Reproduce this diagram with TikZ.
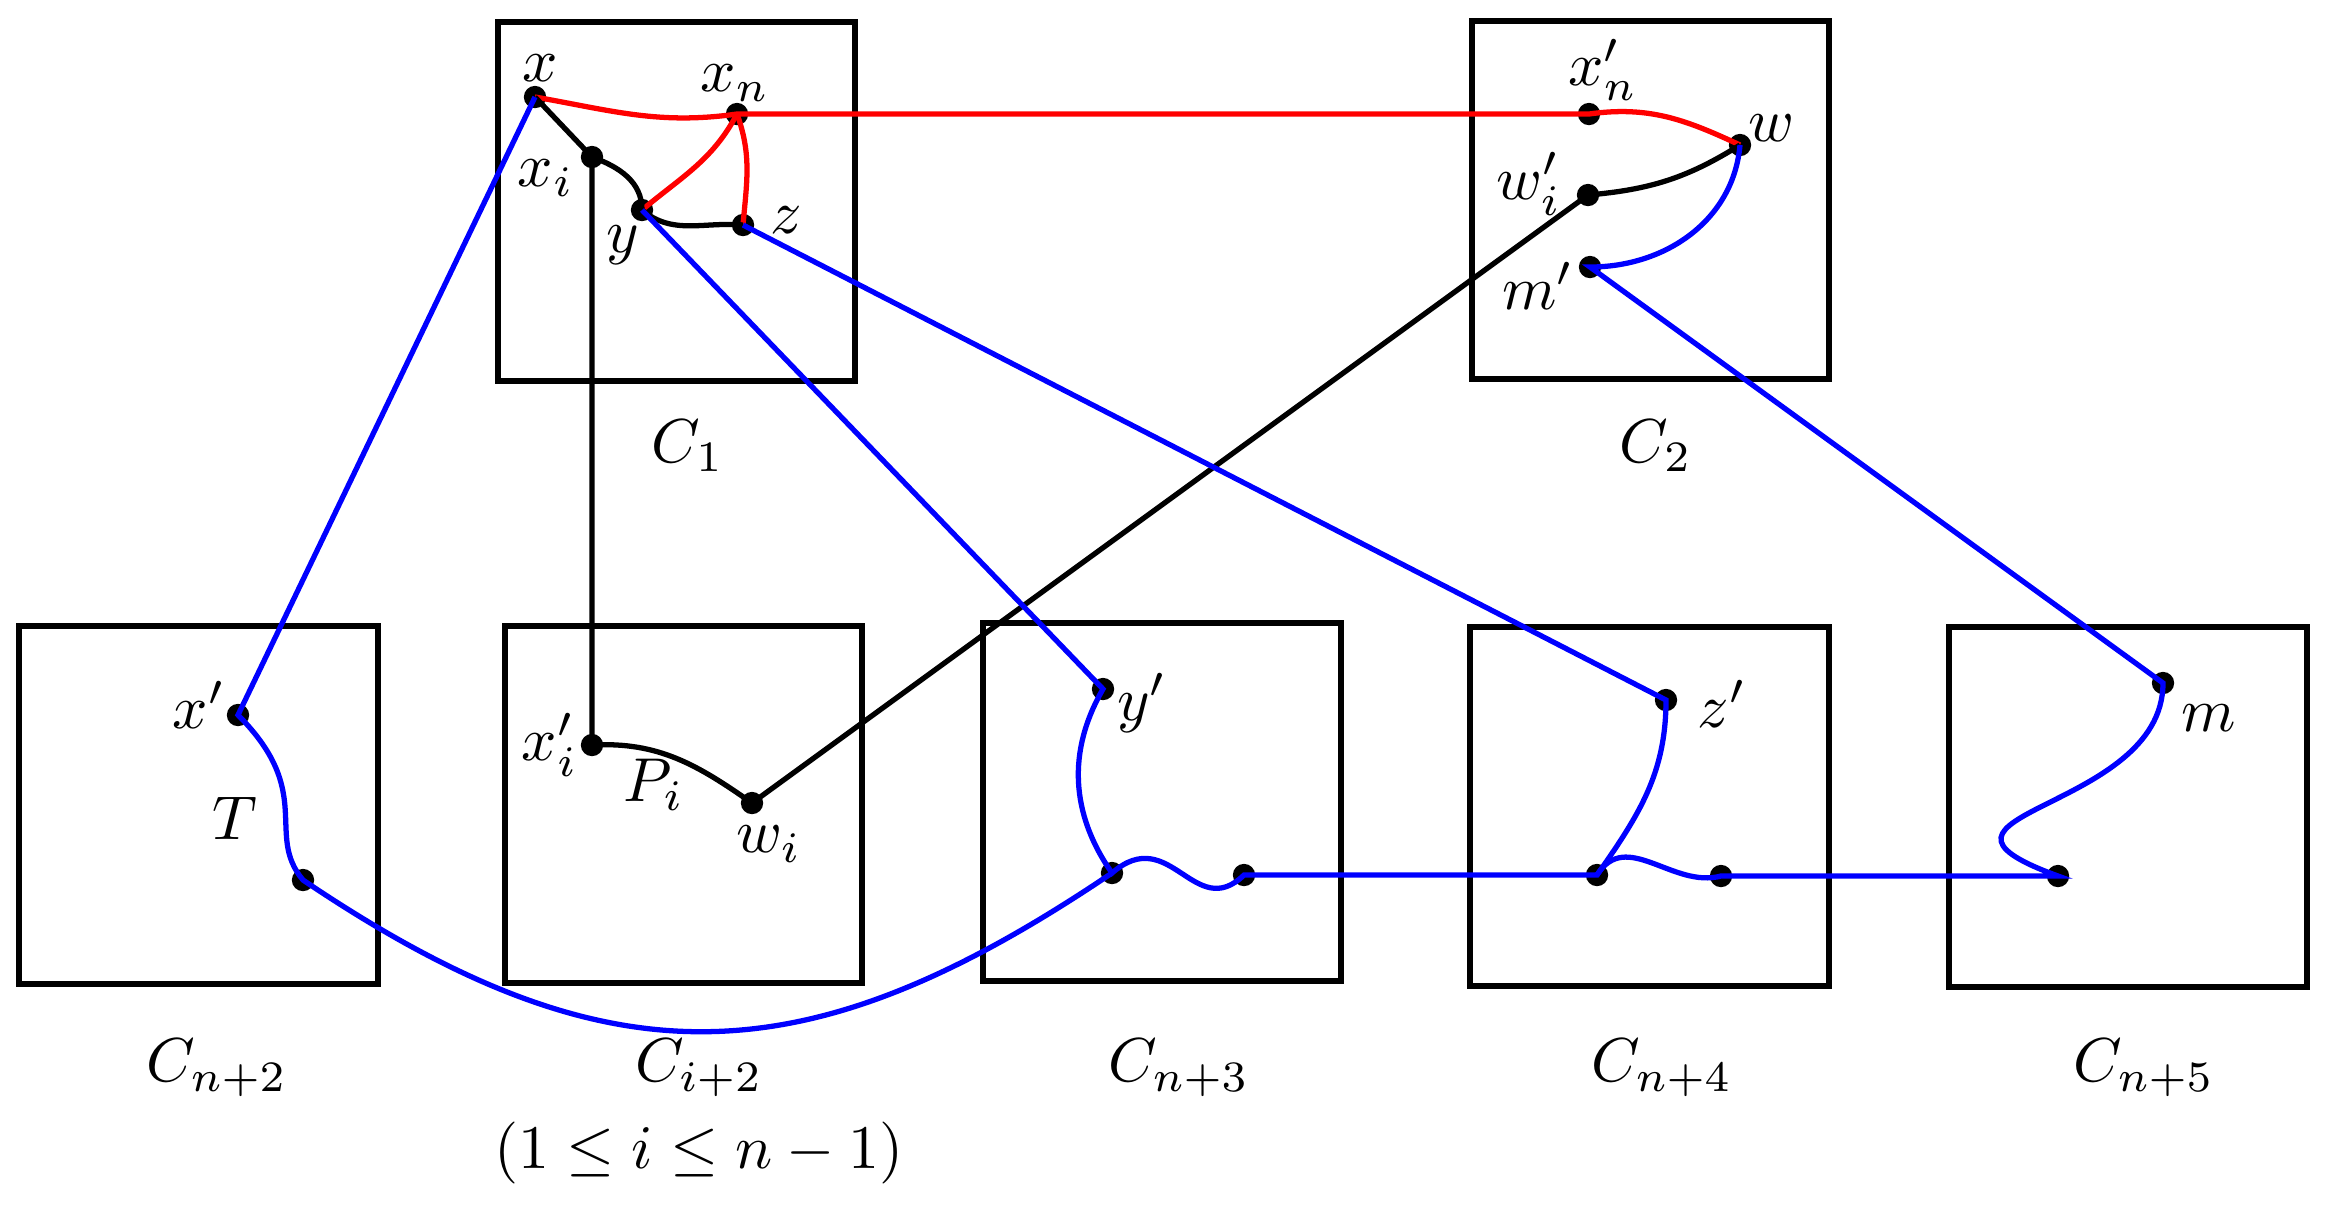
\documentclass[tikz,border=0pt]{standalone}
\usepackage{amsmath,amssymb}
\usepackage{xcolor}
\usepackage{tikz}
\definecolor{Ink}{HTML}{000000}
\definecolor{PathRed}{HTML}{FF0000}
\definecolor{PathBlue}{HTML}{0000FF}
\tikzset{
  comp/.style={draw=Ink,line width=0.95pt},
  vtx/.style={circle,fill=Ink,inner sep=0pt,minimum size=3.6pt},
  lbl/.style={inner sep=1pt},
  redpath/.style={draw=PathRed,line width=0.85pt},
  bluepath/.style={draw=PathBlue,line width=0.85pt},
  blackpath/.style={draw=Ink,line width=0.85pt}
}
\begin{document}
\begin{tikzpicture}[x=0.567cm,y=0.567cm]
  \useasboundingbox[fill=white] (0,0) rectangle (23.31,12.08);
  % components
  \draw[comp] (4.98,8.27) rectangle (8.55,11.86);
  \draw[comp] (14.72,8.29) rectangle (18.29,11.87);
  \draw[comp] (0.19,2.24) rectangle (3.78,5.82);
  \draw[comp] (5.05,2.25) rectangle (8.62,5.82);
  \draw[comp] (9.83,2.27) rectangle (13.41,5.85);
  \draw[comp] (14.70,2.22) rectangle (18.29,5.81);
  \draw[comp] (19.49,2.21) rectangle (23.07,5.81);
  \node[lbl] (c1) at (6.88,7.62) {$C_1$};
  \node[lbl] (c2) at (16.56,7.62) {$C_2$};
  \node[lbl] (cn2) at (2.17,1.40) {$C_{n+2}$};
  \node[lbl] (ci2) at (6.99,1.40) {$C_{i+2}$};
  \node[lbl] (range) at (6.99,0.55) {$(1\leq i\leq n-1)$};
  \node[lbl] (cn3) at (11.79,1.40) {$C_{n+3}$};
  \node[lbl] (cn4) at (16.62,1.40) {$C_{n+4}$};
  \node[lbl] (cn5) at (21.44,1.40) {$C_{n+5}$};
  % vertices
  \node[vtx] (x) at (5.35,11.11) {};
  \node[vtx] (xn) at (7.37,10.94) {};
  \node[vtx] (xi) at (5.92,10.51) {};
  \node[vtx] (y) at (6.42,9.98) {};
  \node[vtx] (z) at (7.43,9.83) {};
  \node[vtx] (xnp) at (15.89,10.94) {};
  \node[vtx] (w) at (17.40,10.63) {};
  \node[vtx] (wip) at (15.88,10.13) {};
  \node[vtx] (mp) at (15.90,9.41) {};
  \node[vtx] (xp) at (2.38,4.93) {};
  \node[vtx] (t) at (3.03,3.28) {};
  \node[vtx] (xip) at (5.92,4.63) {};
  \node[vtx] (wi) at (7.52,4.05) {};
  \node[vtx] (yp) at (11.03,5.19) {};
  \node[vtx] (j3) at (11.12,3.35) {};
  \node[vtx] (r3) at (12.44,3.33) {};
  \node[vtx] (zp) at (16.66,5.08) {};
  \node[vtx] (j4) at (15.97,3.33) {};
  \node[vtx] (r4) at (17.21,3.32) {};
  \node[vtx] (r5) at (20.58,3.32) {};
  \node[vtx] (m) at (21.63,5.25) {};
  % vertex labels
  \node[lbl] (lx) at (5.40,11.40) {$x$};
  \node[lbl] (lxn) at (7.35,11.25) {$x_n$};
  \node[lbl] (lxi) at (5.46,10.30) {$x_i$};
  \node[lbl] (ly) at (6.23,9.63) {$y$};
  \node[lbl] (lz) at (7.86,9.88) {$z$};
  \node[lbl] (lxnp) at (16.03,11.38) {$x_n'$};
  \node[lbl] (lw) at (17.72,10.80) {$w$};
  \node[lbl] (lwip) at (15.29,10.24) {$w_i'$};
  \node[lbl] (lmp) at (15.38,9.22) {$m'$};
  \node[lbl] (lxp) at (1.99,5.03) {$x'$};
  \node[lbl] (lT) at (2.35,3.90) {$T$};
  \node[lbl] (lxip) at (5.50,4.63) {$x_i'$};
  \node[lbl] (lPi) at (6.54,4.23) {$P_i$};
  \node[lbl] (lwi) at (7.69,3.64) {$w_i$};
  \node[lbl] (lyp) at (11.42,5.05) {$y'$};
  \node[lbl] (lzp) at (17.22,5.04) {$z'$};
  \node[lbl] (lm) at (22.09,4.90) {$m$};
  % red paths
  \draw[redpath] (x.center) to[out=-10,in=188] (xn.center) -- (xnp.center) to[out=8,in=155] (w.center);
  \draw[redpath] (xn.center) to[out=-118,in=40] (y.center);
  \draw[redpath] (xn.center) to[out=-70,in=85] (z.center);
  % black paths
  \draw[blackpath] (x.center) -- (xi.center) to[out=-20,in=90] (y.center) to[out=-40,in=175] (z.center);
  \draw[blackpath] (xi.center) -- (xip.center) to[out=3,in=145] (wi.center) -- (wip.center) to[out=5,in=-148] (w.center);
  % blue paths
  \draw[bluepath] (x.center) -- (xp.center) .. controls +(-45:1.1) and +(130:0.6) .. (t.center)
    .. controls +(-34:3.7) and +(-146:3.7) .. (j3.center);
  \draw[bluepath] (y.center) -- (yp.center) to[out=-120,in=125] (j3.center)
    .. controls +(41:0.77) and +(-136:0.69) .. (r3.center) -- (j4.center)
    .. controls +(58:0.55) and +(-165:0.5) .. (r4.center) -- (r5.center)
    .. controls +(160:1.85) and +(-90:1.3) .. (m.center) -- (mp.center) to[out=0,in=-95] (w.center);
  \draw[bluepath] (z.center) -- (zp.center) to[out=-90,in=55] (j4.center);
\end{tikzpicture}
\end{document}
